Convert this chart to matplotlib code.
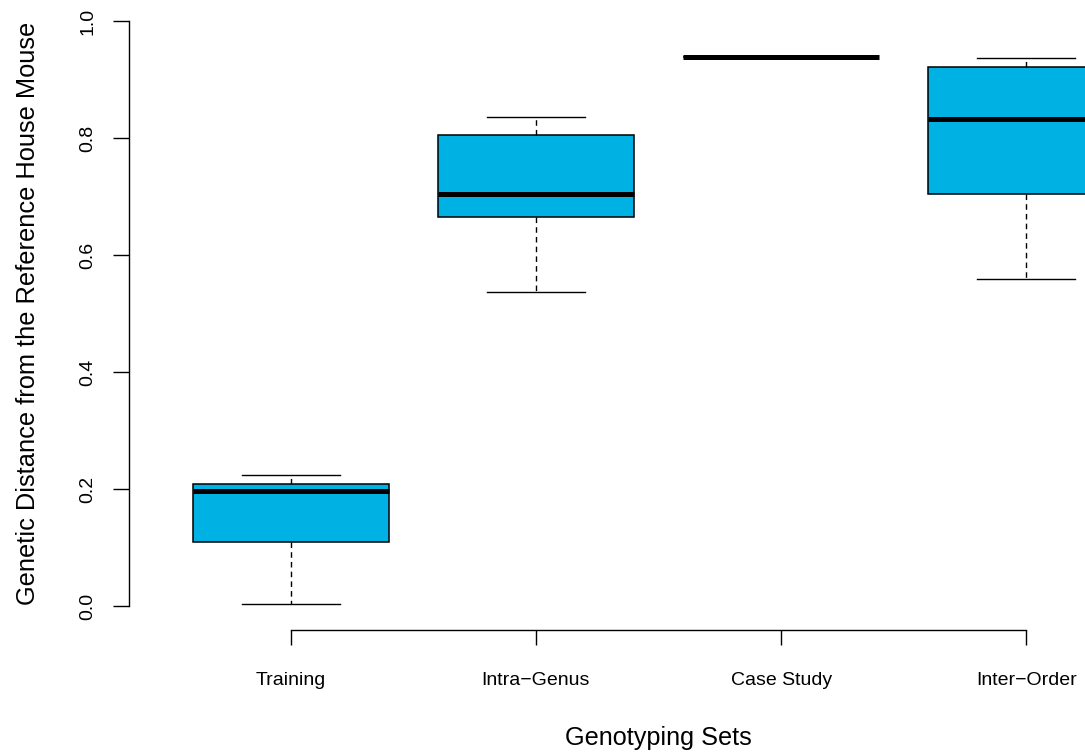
import matplotlib
matplotlib.use("Agg")
import matplotlib.pyplot as plt

plt.rcParams['font.family'] = ['Liberation Sans', 'DejaVu Sans']

categories = ["Training", "Intra\u2212Genus", "Case Study", "Inter\u2212Order"]
whislo = [0.004, 0.537, 0.938, 0.559]
q1 = [0.109, 0.665, 0.938, 0.705]
med = [0.197, 0.704, 0.938, 0.832]
q3 = [0.209, 0.805, 0.938, 0.921]
whishi = [0.224, 0.836, 0.938, 0.937]
yticks = [0.0, 0.2, 0.4, 0.6, 0.8, 1.0]
ytick_labels = ["0.0", "0.2", "0.4", "0.6", "0.8", "1.0"]

W, H = 1085, 753
fig = plt.figure(figsize=(W / 100, H / 100), dpi=100)
left_px, right_px, bot_px, top_px = 129, 1188, 630, 21
ax = fig.add_axes([left_px / W, (H - bot_px) / H,
                   (right_px - left_px) / W, (bot_px - top_px) / H])

stats = []
for i, c in enumerate(categories):
    stats.append(dict(label=c, whislo=whislo[i], q1=q1[i], med=med[i],
                      q3=q3[i], whishi=whishi[i], fliers=[]))

positions = list(range(1, len(categories) + 1))
ax.bxp(stats, positions=positions, widths=0.8, capwidths=0.4,
       patch_artist=True, showfliers=False,
       boxprops=dict(facecolor="#00B2E4", edgecolor="black", linewidth=1.1),
       medianprops=dict(color="black", linewidth=3.6, solid_capstyle="butt"),
       whiskerprops=dict(color="black", linewidth=1.0, linestyle=(0, (4, 3))),
       capprops=dict(color="black", linewidth=1.0))

ax.set_xlim(0.34, 4.66)
ax.set_ylim(-(bot_px - 606) / 585, 1.0)

for s in ["top", "right"]:
    ax.spines[s].set_visible(False)
ax.spines["left"].set_bounds(0, 1)
ax.spines["bottom"].set_bounds(1, 4)
ax.spines["left"].set_linewidth(1.0)
ax.spines["bottom"].set_linewidth(1.0)

ax.set_yticks(yticks)
ax.set_yticklabels(ytick_labels)
ax.set_xticks(positions)
ax.set_xticklabels(categories)
ax.tick_params(axis="y", length=11.5, width=1.0, pad=12, labelsize=14,
               labelrotation=90)
for t in ax.get_yticklabels():
    t.set_va("center")
ax.tick_params(axis="x", length=10.8, width=1.0, pad=19.5, labelsize=14)

fig.text(28 / W, (H - 313) / H, "Genetic Distance from the Reference House Mouse",
         rotation=90, ha="center", va="center", fontsize=18.3)
fig.text(658.5 / W, (H - 738) / H, "Genotyping Sets",
         ha="center", va="center", fontsize=18.2)

fig.savefig("out.png", dpi=100)
